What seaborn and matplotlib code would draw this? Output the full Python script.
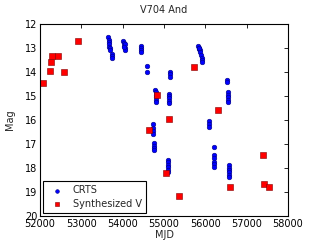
import numpy as np
import pandas as pd
import seaborn as sns
import matplotlib
matplotlib.use("Agg")
import matplotlib.pyplot as plt

# CRTS photometry
crts_mjd = [53655, 53660, 53665, 53670, 53675, 53690, 53700, 53730, 53735, 53738,
            54020, 54030, 54040, 54050, 54055, 54060, 54025,
            54440, 54445, 54448, 54450,
            54580, 54582,
            54790, 54795, 54800, 54805, 54800, 54795,
            54740, 54742, 54745, 54745,
            54765, 54767, 54765, 54768,
            55145, 55147, 55145,
            55120, 55122, 55120, 55125, 55122,
            55090, 55092, 55095, 55092, 55095, 55090,
            55830, 55835, 55845, 55860, 55870, 55900, 55910, 55915, 55920, 55840,
            56088, 56088, 56090,
            56216, 56215, 56216, 56218, 56216, 56217,
            56530, 56532, 56555, 56557, 56555, 56558, 56556,
            56579, 56580, 56578, 56581, 56580, 56579]
crts_mag = [12.55, 12.65, 12.75, 12.85, 12.95, 13.0, 13.08, 13.25, 13.32, 13.4,
            12.7, 12.8, 12.9, 12.85, 13.0, 13.08, 12.95,
            12.9, 13.0, 13.1, 13.15,
            13.77, 13.98,
            14.75, 14.85, 14.95, 15.05, 15.15, 15.24,
            16.15, 16.35, 16.45, 16.6,
            16.97, 17.07, 17.18, 17.25,
            14.0, 14.1, 14.2,
            14.9, 15.0, 15.1, 15.2, 15.3,
            17.67, 17.77, 17.87, 17.97, 18.07, 18.15,
            12.9, 12.98, 13.05, 13.1, 13.15, 13.3, 13.4, 13.5, 13.57, 13.0,
            16.03, 16.15, 16.28,
            17.11, 17.46, 17.6, 17.75, 17.85, 17.95,
            14.33, 14.43, 14.82, 14.95, 15.05, 15.15, 15.24,
            17.88, 17.98, 18.08, 18.18, 18.28, 18.36]

# synthesized V magnitudes
synth_mjd = [52081, 52242, 52266, 52298, 52435, 52573, 52919, 54637, 54838,
             55121, 55055, 55363, 55733, 56298, 56597, 57402, 57426, 57547]
synth_mag = [14.47, 13.95, 13.6, 13.32, 13.32, 13.99, 12.69, 16.4, 14.96,
             15.97, 18.22, 19.17, 13.78, 15.58, 18.8, 17.46, 18.65, 18.78]

crts = pd.DataFrame({"MJD": crts_mjd, "Mag": crts_mag})
synth = pd.DataFrame({"MJD": synth_mjd, "Mag": synth_mag})

sns.set_style("white")
plt.rcParams["font.family"] = ["DejaVu Sans"]
plt.rcParams["xtick.direction"] = "in"
plt.rcParams["ytick.direction"] = "in"
plt.rcParams["xtick.top"] = True
plt.rcParams["ytick.right"] = True

fs = 7
fig, ax = plt.subplots(figsize=(3.2, 2.4), dpi=100)
fig.subplots_adjust(left=0.125, right=0.9, bottom=0.1, top=0.9)

sns.scatterplot(x="MJD", y="Mag", data=crts, ax=ax, color="b", marker="o",
                s=11, edgecolor="#000080", linewidth=0.4, label="CRTS")
sns.scatterplot(x="MJD", y="Mag", data=synth, ax=ax, color="r", marker="s",
                s=14, edgecolor="#800000", linewidth=0.4, label="Synthesized V")

ax.set_xlim(52000, 58000)
ax.set_ylim(20, 12)
ax.set_xticks(np.arange(52000, 58001, 1000))
ax.set_yticks(np.arange(12, 21, 1))
ax.tick_params(labelsize=fs, length=3, width=0.6, colors="black", pad=2)
for sp in ax.spines.values():
    sp.set_color("black")
    sp.set_linewidth(0.8)

ax.set_title("V704 And", fontsize=fs, pad=8)
ax.set_xlabel("MJD", fontsize=fs, labelpad=1)
ax.set_ylabel("Mag", fontsize=fs, labelpad=7)

leg = ax.legend(loc="lower left", fontsize=fs, fancybox=False, frameon=True,
                edgecolor="black", framealpha=1, borderaxespad=0.3, handletextpad=0.6,
                handlelength=2.0, borderpad=0.45, labelspacing=0.35, markerscale=0.8)
leg.get_frame().set_linewidth(0.8)

fig.savefig("out.png", dpi=100)
